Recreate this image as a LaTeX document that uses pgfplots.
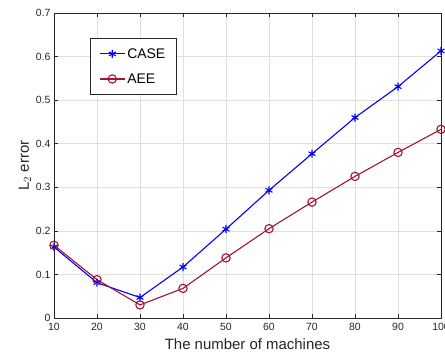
\documentclass[border=0pt]{standalone}
\usepackage{pgfplots}
\pgfplotsset{compat=1.18}
\usepackage{fontspec}
\setmainfont{Liberation Sans}
\definecolor{mblue}{rgb}{0,0,1}
\definecolor{mred}{rgb}{0.635,0.078,0.184}
\definecolor{axgray}{rgb}{0.15,0.15,0.15}
\begin{document}
\begin{tikzpicture}
\begin{axis}[
  at={(0,0)}, anchor=south west,
  scale only axis, width=387bp, height=305bp,
  xmin=10, xmax=100, ymin=0, ymax=0.7,
  xtick={10,20,...,100},
  ytick={0,0.1,...,0.7},
  yticklabels={0,0.1,0.2,0.3,0.4,0.5,0.6,0.7},
  /pgf/number format/assume math mode=true,
  tick label style={font=\fontsize{10.5}{12}\selectfont, text=axgray},
  xticklabel style={yshift=-2pt},
  xlabel={The number of machines},
  ylabel={L$_2$ error},
  label style={font=\fontsize{15}{17}\selectfont, text=axgray},
  xlabel style={yshift=-1pt},
  ylabel style={yshift=-2pt},
  grid=major,
  major grid style={color=gray!25, line width=0.5pt},
  axis line style={axgray, line width=0.6pt},
  tick style={axgray, line width=0.6pt},
  tick align=inside,
  major tick length=4bp,
  legend style={at={(rel axis cs:0.093,0.918)}, anchor=north west,
    draw=axgray, line width=0.6pt, font=\fontsize{14}{16}\selectfont,
    inner xsep=9pt, inner ysep=8pt, row sep=10pt},
  legend cell align=left,
  legend image code/.code={
    \draw[mark repeat=2,mark phase=2] plot coordinates {(0cm,0cm) (0.44cm,0cm) (0.88cm,0cm)};},
]
\addplot[mblue, line width=1.1pt, mark=asterisk, mark size=4pt, mark options={line width=1.1pt}] coordinates {
(10,0.163) (20,0.081) (30,0.047) (40,0.117) (50,0.204) (60,0.293) (70,0.377) (80,0.460) (90,0.531) (100,0.613)
};
\addlegendentry{CASE}
\addplot[mred, line width=1.1pt, mark=o, mark size=4.2pt, mark options={line width=1.1pt}] coordinates {
(10,0.167) (20,0.088) (30,0.030) (40,0.068) (50,0.138) (60,0.205) (70,0.266) (80,0.325) (90,0.380) (100,0.433)
};
\addlegendentry{AEE}
\end{axis}
\pgfresetboundingbox
\path[use as bounding box] (-54bp,-34bp) rectangle (391bp,318bp);
\end{tikzpicture}
\end{document}
